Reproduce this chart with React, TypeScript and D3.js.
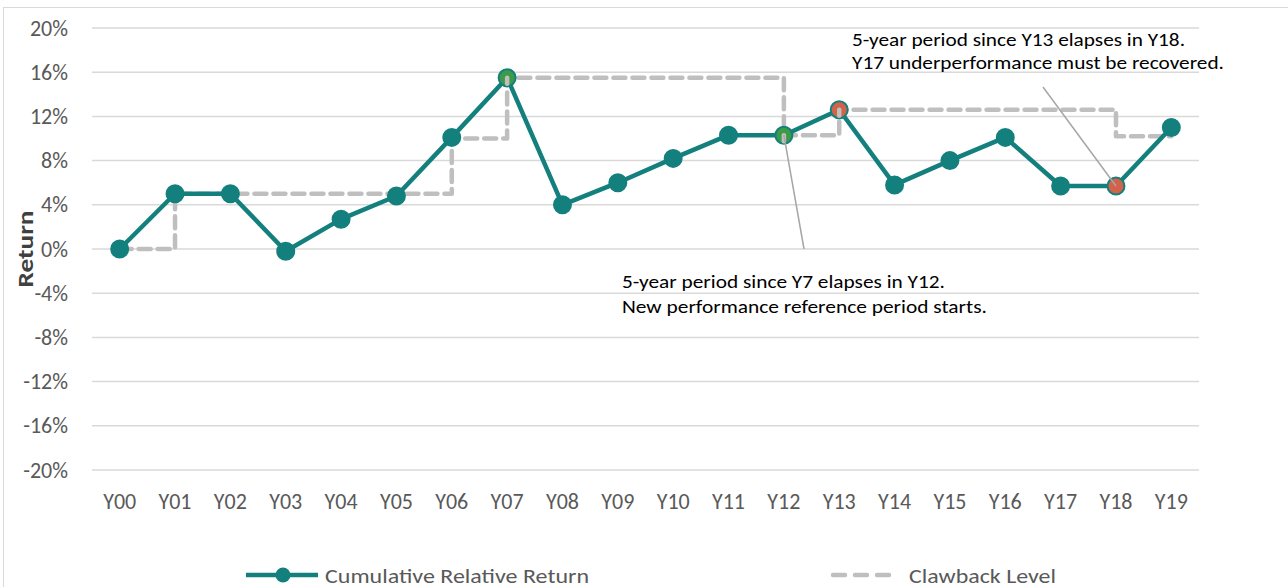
import React from "react";
import * as d3 from "d3";

const categories = ["Y00","Y01","Y02","Y03","Y04","Y05","Y06","Y07","Y08","Y09","Y10","Y11","Y12","Y13","Y14","Y15","Y16","Y17","Y18","Y19"];
const cumulativeReturn = [0, 5.0, 5.0, -0.2, 2.7, 4.8, 10.1, 15.5, 4.0, 6.0, 8.2, 10.3, 10.3, 12.6, 5.8, 8.0, 10.1, 5.7, 5.7, 11.0];
const clawbackLevel = [0, 5.0, 5.0, 5.0, 5.0, 5.0, 10.0, 15.5, 15.5, 15.5, 15.5, 15.5, 10.3, 12.6, 12.6, 12.6, 12.6, 12.6, 10.2, 10.2];
const yTicks = [20, 16, 12, 8, 4, 0, -4, -8, -12, -16, -20];
const greenPoints = ["Y07", "Y12"];
const redPoints = ["Y13", "Y18"];

const W = 1288, H = 587;
const TEAL = "#14807E";
const GRAY = "#BFBFBF";
const FONT = "Calibri, Carlito, 'Open Sans', 'Liberation Sans', sans-serif";

export default function App() {
  const x = d3.scaleBand().domain(categories).range([92, 1199]);
  const y = d3.scaleLinear().domain([-20, 20]).range([470, 28]);
  const cx = (c: string) => (x(c) as number) + x.bandwidth() / 2;

  const line = d3.line<number>().x((_, i) => cx(categories[i])).y(d => y(d));
  const stepLine = d3.line<number>().x((_, i) => cx(categories[i])).y(d => y(d)).curve(d3.curveStepAfter);

  const idx = (c: string) => categories.indexOf(c);

  return (
    <svg width={W} height={H} style={{ position: "absolute", left: 0, top: 0, background: "#fff" }}>
      <rect x={3.5} y={7.5} width={W} height={H} fill="#fff" stroke="#D9D9D9" strokeWidth={1} />
      {yTicks.map(t => (
        <g key={t}>
          <line x1={92} x2={1199} y1={y(t)} y2={y(t)} stroke="#D9D9D9" strokeWidth={1.5} />
          <text x={68} y={y(t) + 7.5} textAnchor="end" fontFamily={FONT} fontSize={22} fill="#595959">{t}%</text>
        </g>
      ))}
      {categories.map(c => (
        <text key={c} x={cx(c)} y={509} textAnchor="middle" fontFamily={FONT} fontSize={22} fill="#595959">{c}</text>
      ))}
      <text transform="translate(33,249) rotate(-90)" textAnchor="middle" fontFamily={FONT} fontSize={23} fontWeight="bold" fill="#404040" textLength={77} lengthAdjust="spacingAndGlyphs">Return</text>

      <path d={stepLine(clawbackLevel) || ""} fill="none" stroke={GRAY} strokeWidth={4.5} strokeDasharray="12 7" strokeLinecap="round" strokeLinejoin="round" />
      <path d={line(cumulativeReturn) || ""} fill="none" stroke={TEAL} strokeWidth={4.5} strokeLinejoin="round" />
      {cumulativeReturn.map((v, i) => {
        const c = categories[i];
        let fill = TEAL;
        if (greenPoints.includes(c)) fill = "#3C9A48";
        if (redPoints.includes(c)) fill = "#D2624A";
        return <circle key={c} cx={cx(c)} cy={y(v)} r={8.5} fill={fill} stroke={TEAL} strokeWidth={2} />;
      })}
      {["Y07","Y12","Y13"].map(c => (
        <line key={c} x1={cx(c)} x2={cx(c)} y1={y(cumulativeReturn[idx(c)])} y2={y(cumulativeReturn[idx(c)]) + 6} stroke={GRAY} strokeWidth={4.5} strokeLinecap="round" />
      ))}

      <line x1={cx("Y12")} y1={y(cumulativeReturn[idx("Y12")])} x2={804} y2={249} stroke="#A6A6A6" strokeWidth={1.5} />
      <line x1={1043} y1={87} x2={cx("Y18")} y2={y(cumulativeReturn[idx("Y18")])} stroke="#A6A6A6" strokeWidth={1.5} />

      <text fontFamily={FONT} fontSize={19} fill="#000">
        <tspan x={852} y={46} textLength={333} lengthAdjust="spacingAndGlyphs">5-year period since Y13 elapses in Y18.</tspan>
        <tspan x={852} y={69} textLength={372} lengthAdjust="spacingAndGlyphs">Y17 underperformance must be recovered.</tspan>
      </text>
      <text fontFamily={FONT} fontSize={19} fill="#000">
        <tspan x={622} y={288} textLength={323} lengthAdjust="spacingAndGlyphs">5-year period since Y7 elapses in Y12.</tspan>
        <tspan x={622} y={313} textLength={365} lengthAdjust="spacingAndGlyphs">New performance reference period starts.</tspan>
      </text>

      <line x1={246} x2={318} y1={575} y2={575} stroke={TEAL} strokeWidth={4.5} />
      <circle cx={283} cy={575} r={7.5} fill={TEAL} />
      <text x={325} y={583} fontFamily={FONT} fontSize={21} fill="#595959" textLength={264} lengthAdjust="spacingAndGlyphs">Cumulative Relative Return</text>
      <line x1={833} x2={896} y1={575} y2={575} stroke={GRAY} strokeWidth={4.5} strokeDasharray="12 10" strokeLinecap="round" />
      <text x={909} y={583} fontFamily={FONT} fontSize={21} fill="#595959" textLength={147} lengthAdjust="spacingAndGlyphs">Clawback Level</text>
    </svg>
  );
}
